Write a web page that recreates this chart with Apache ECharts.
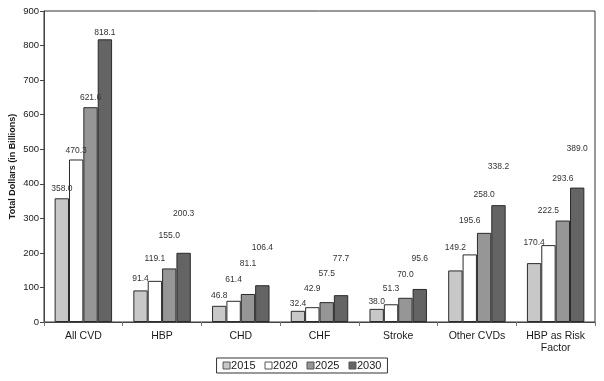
<!DOCTYPE html>
<html><head><meta charset="utf-8">
<script src="https://cdn.jsdelivr.net/npm/echarts@6/dist/echarts.min.js"></script>
<style>html,body{margin:0;padding:0;background:#fff}#c{width:604px;height:381px}</style>
</head><body><div id="c"></div>
<script>
var categories = ['All CVD', 'HBP', 'CHD', 'CHF', 'Stroke', 'Other CVDs', 'HBP as Risk\nFactor'];
var years = ['2015', '2020', '2025', '2030'];
var v2015 = [358.0, 91.4, 46.8, 32.4, 38.0, 149.2, 170.4];
var v2020 = [470.3, 119.1, 61.4, 42.9, 51.3, 195.6, 222.5];
var v2025 = [621.6, 155.0, 81.1, 57.5, 70.0, 258.0, 293.6];
var v2030 = [818.1, 200.3, 106.4, 77.7, 95.6, 338.2, 389.0];
var yTicks = [0, 100, 200, 300, 400, 500, 600, 700, 800, 900];
// label lift above bar (px), staggered like the original
var lift2015 = [10, 12, 11, 8, 8, 23, 21];
var lift2020 = [9, 23, 22, 19, 16, 34, 35];
var lift2025 = [10, 33, 31, 29, 24, 39, 42];
var lift2030 = [7, 40, 38, 37, 31, 39, 39];

var values = [v2015, v2020, v2025, v2030];
var lifts = [lift2015, lift2020, lift2025, lift2030];
var colors = ['#c8c8c8', '#ffffff', '#969696', '#646464'];
var font = 'Liberation Sans, Arial, sans-serif';

var series = years.map(function (y, i) {
  return {
    name: y,
    type: 'bar',
    barGap: '0%',
    barCategoryGap: '27%',
    itemStyle: { color: colors[i], borderColor: '#2a2a2a', borderWidth: 1 },
    data: values[i].map(function (v, j) {
      return { value: v, label: { distance: lifts[i][j] - 5 } };
    }),
    label: {
      show: true, position: 'top', color: '#333', fontSize: 8.5, fontFamily: font,
      formatter: function (p) { return p.value.toFixed(1); }
    }
  };
});

var chart = echarts.init(document.getElementById('c'), null, { renderer: 'canvas' });
chart.setOption({
  animation: false,
  backgroundColor: '#fff',
  grid: { left: 44, right: 9, top: 11, bottom: 59, containLabel: false, outerBoundsMode: 'none', show: true, borderColor: '#333', borderWidth: 1, backgroundColor: 'transparent' },
  legend: {
    data: years, bottom: 8, left: 'center',
    itemWidth: 7, itemHeight: 7, itemGap: 9,
    padding: [2, 6, 2, 6],
    borderColor: '#333', borderWidth: 1,
    textStyle: { fontSize: 11, fontFamily: font, color: '#1a1a1a', padding: [0, 0, 0, -4] },
    itemStyle: { borderColor: '#555', borderWidth: 1 },
    icon: 'rect'
  },
  xAxis: {
    type: 'category', data: categories,
    axisLine: { lineStyle: { color: '#444' } },
    axisTick: { show: true, length: 4, lineStyle: { color: '#777' } },
    axisLabel: { color: '#1a1a1a', fontSize: 10.5, fontFamily: font, margin: 8, interval: 0, lineHeight: 12 }
  },
  yAxis: {
    type: 'value', min: yTicks[0], max: yTicks[yTicks.length - 1], interval: 100,
    name: 'Total Dollars (in Billions)', nameLocation: 'middle', nameGap: 27, nameMoveOverlap: false,
    nameTextStyle: { fontWeight: 'bold', fontSize: 9, fontFamily: font, color: '#1a1a1a' },
    axisLine: { show: true, lineStyle: { color: '#444' } },
    axisTick: { show: true, length: 4, lineStyle: { color: '#444' } },
    splitLine: { show: false },
    axisLabel: { color: '#1a1a1a', fontSize: 9.5, fontFamily: font, margin: 5 }
  },
  series: series
});
</script></body></html>
